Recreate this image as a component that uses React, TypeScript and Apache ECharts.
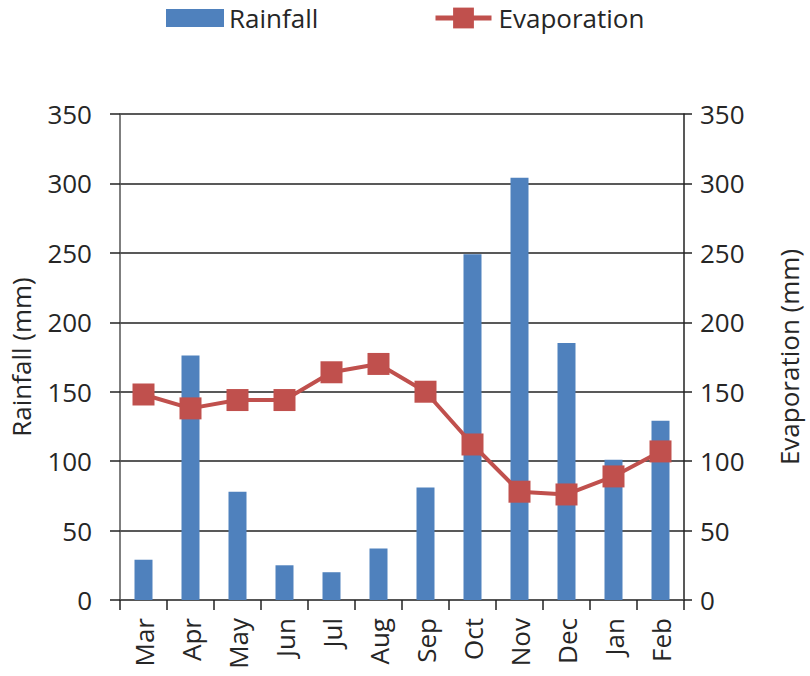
import React, { useEffect, useRef } from "react";
import * as echarts from "echarts";

const months = ["Mar", "Apr", "May", "Jun", "Jul", "Aug", "Sep", "Oct", "Nov", "Dec", "Jan", "Feb"];
const rainfall = [29, 176, 78, 25, 20, 37, 81, 249, 304, 185, 101, 129];
const evaporation = [148, 138, 144, 144, 164, 170, 150, 112, 78, 76, 89, 107];
const axisTicks = [0, 50, 100, 150, 200, 250, 300, 350];

const FONT = "Open Sans";
const TEXT = "#262626";
const FS = 26;

export default function App() {
  const ref = useRef<HTMLDivElement>(null);
  useEffect(() => {
    if (!ref.current) return;
    const chart = echarts.init(ref.current, undefined, { renderer: "svg" });
    const yMax = axisTicks[axisTicks.length - 1];
    const yInterval = axisTicks[1] - axisTicks[0];
    chart.setOption({
      animation: false,
      textStyle: { fontFamily: FONT },
      legend: [
        {
          top: 0,
          left: 161,
          itemWidth: 58,
          itemHeight: 18,
          textStyle: { fontSize: FS, color: TEXT, fontFamily: FONT, padding: [0, 0, 0, 0] },
          data: [{ name: "Rainfall", icon: "rect" }],
        },
        {
          top: 0,
          left: 428,
          itemWidth: 56,
          itemHeight: 26,
          itemGap: 10,
          lineStyle: { width: 5 },
          textStyle: { fontSize: FS, color: TEXT, fontFamily: FONT, padding: [0, 0, 0, 2] },
          data: [{ name: "Evaporation" }],
        },
      ],
      grid: { left: 118, right: 119, top: 114, bottom: 76 },
      xAxis: {
        type: "category",
        data: months,
        boundaryGap: true,
        axisLine: { lineStyle: { color: "#555", width: 1.5 } },
        axisTick: { show: true, length: 10, inside: false, lineStyle: { color: "#222", width: 1.5 } },
        axisLabel: { rotate: 90, fontSize: FS, color: TEXT, margin: 18, fontFamily: FONT },
      },
      yAxis: [
        {
          type: "value",
          min: 0,
          max: yMax,
          interval: yInterval,
          name: "Rainfall (mm)",
          nameLocation: "middle",
          nameGap: 86,
          nameTextStyle: { fontSize: FS, color: TEXT, fontFamily: FONT },
          axisLine: { show: true, lineStyle: { color: "#555", width: 1.5 } },
          axisTick: { show: true, length: 10, lineStyle: { color: "#222", width: 1.5 } },
          axisLabel: { fontSize: FS, color: TEXT, margin: 28, fontFamily: FONT },
          splitLine: { show: true, lineStyle: { color: "#222", width: 1.5 } },
        },
        {
          type: "value",
          min: 0,
          max: yMax,
          interval: yInterval,
          position: "right",
          name: "Evaporation (mm)",
          nameLocation: "middle",
          nameGap: 92,
          nameRotate: 90,
          nameTextStyle: { fontSize: FS, color: TEXT, fontFamily: FONT },
          axisLine: { show: true, lineStyle: { color: "#222", width: 1.5 } },
          axisTick: { show: true, length: 8, lineStyle: { color: "#222", width: 1.5 } },
          axisLabel: { fontSize: FS, color: TEXT, margin: 16, fontFamily: FONT },
          splitLine: { show: false },
        },
      ],
      series: [
        {
          name: "Rainfall",
          type: "bar",
          data: rainfall,
          yAxisIndex: 0,
          barWidth: 18,
          itemStyle: { color: "#4F81BD" },
        },
        {
          name: "Evaporation",
          type: "line",
          data: evaporation,
          yAxisIndex: 1,
          symbol: "rect",
          symbolSize: 22,
          lineStyle: { color: "#C0504D", width: 4 },
          itemStyle: { color: "#C0504D" },
        },
      ],
    });
    return () => chart.dispose();
  }, []);
  return <div ref={ref} style={{ width: 810, height: 676, position: "absolute", left: 0, top: 0 }} />;
}
